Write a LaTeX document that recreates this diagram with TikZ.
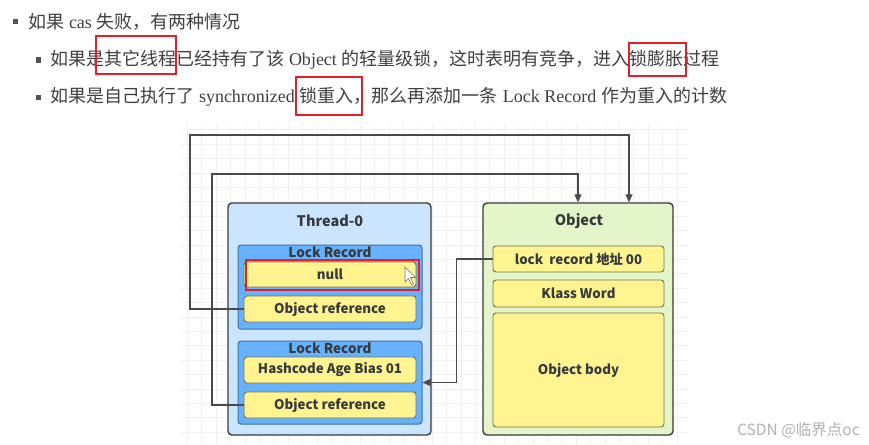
\documentclass[tikz,border=0pt]{standalone}
\usepackage{fontspec}
\setmainfont{Liberation Serif}
\newfontfamily\cjk{Noto Sans CJK SC}
\usetikzlibrary{arrows.meta, positioning}

\definecolor{txtgray}{HTML}{404040}
\definecolor{markred}{HTML}{E3202A}
\definecolor{boxline}{HTML}{36393D}
\definecolor{threadfill}{HTML}{CCE5FF}
\definecolor{recfill}{HTML}{66B2FF}
\definecolor{recline}{HTML}{3F6E9E}
\definecolor{slotfill}{HTML}{FFF48F}
\definecolor{slotline}{HTML}{77734C}
\definecolor{objfill}{HTML}{E4F5C9}
\definecolor{linkgray}{HTML}{4A4A4A}

\begin{document}
\begin{tikzpicture}[x=1pt, y=-1pt,
  word/.style = {anchor=base west, inner sep=0pt, outer sep=0pt, text=txtgray, font=\cjk\fontsize{18}{20}\selectfont},
  bullet/.style = {fill=txtgray!90, minimum size=5pt, inner sep=0pt},
  markbox/.style = {draw=markred, line width=2.6pt},
  holder/.style = {draw=boxline, line width=1.4pt, rounded corners=4pt},
  record/.style = {draw=recline, fill=recfill, line width=1pt, rounded corners=3pt},
  slot/.style = {draw=slotline, fill=slotfill, line width=0.9pt, rounded corners=3pt, text=boxline, font=\cjk\bfseries\fontsize{13.3}{15}\selectfont},
  label/.style = {text=boxline, font=\cjk\bfseries\fontsize{13.5}{15}\selectfont},
  link/.style = {draw=linkgray, line width=1.2pt, -{Triangle[length=8pt, width=7pt]}}
]
\useasboundingbox[fill=white] (0,0) rectangle (869,444);

% grid behind the diagram
\draw[black!6, line width=0.6pt, step=14.4pt] (180,125) grid (688,444);

% text lines
\node[bullet] (b1) at (15,22) {};
\node[word] (l1a) at (28,28.6) {如果};
\node[word] (l1b) at (l1a.base east) {\kern5pt\rmfamily cas\kern5pt};
\node[word] (l1c) at (l1b.base east) {失败，有两种情况};

\node[bullet] (b2) at (38,60) {};
\node[word] (l2a) at (50,65.6) {如果是};
\node[word] (l2b) at (l2a.base east) {其它线程};
\node[word] (l2c) at (l2b.base east) {已经持有了该\kern5pt{\rmfamily Object}\kern5pt的轻量级锁，这时表明有竞争，进入};
\node[word] (l2d) at (l2c.base east) {锁膨胀};
\node[word] (l2e) at (l2d.base east) {过程};

\node[bullet] (b3) at (38,97) {};
\node[word] (l3a) at (50,102.6) {如果是自己执行了\kern5pt{\rmfamily synchronized}\kern5pt};
\node[word] (l3b) at (l3a.base east) {锁重入};
\node[word] (l3c) at (l3b.base east) {，那么再添加一条\kern5pt{\rmfamily Lock Record}\kern5pt作为重入的计数};

\draw[markbox] ([xshift=-8pt, yshift=-8.5pt]l2b.base west) rectangle ([yshift=29.5pt]l2b.base east);
\draw[markbox] ([xshift=-1pt, yshift=-10.5pt]l2d.base west) rectangle ([xshift=2pt, yshift=22.5pt]l2d.base east);
\draw[markbox] ([xshift=-4pt, yshift=-12.5pt]l3b.base west) rectangle ([xshift=8pt, yshift=25.5pt]l3b.base east);

% Thread-0 with its lock records
\node[holder, fill=threadfill, minimum width=203pt, minimum height=232pt] (thread) at (329.5,319) {};
\node[label, font=\cjk\bfseries\fontsize{14.5}{16}\selectfont] (threadT) at (330,221) {Thread-0};
\node[record, minimum width=184pt, minimum height=84pt] (rec1) at (330,287) {};
\node[label] (rec1T) at (330,252) {Lock Record};
\node[slot, minimum width=172pt, minimum height=25pt] (null) at (330,274.5) {null};
\node[slot, minimum width=172pt, minimum height=26pt] (ref1) at (330,309) {Object reference};
\node[record, minimum width=184pt, minimum height=83pt] (rec2) at (330,382.5) {};
\node[label] (rec2T) at (330,348) {Lock Record};
\node[slot, minimum width=172pt, minimum height=26pt] (hash) at (330,370) {Hashcode Age Bias 01};
\node[slot, minimum width=172pt, minimum height=26pt] (ref2) at (330,405) {Object reference};
\draw[markbox] (246,260) rectangle (419,290);
\draw[fill=white, draw=black!55, line width=0.6pt] (405,267) -- (405,282) -- (408.5,278.5) -- (411.5,285) -- (413.5,284) -- (410.5,277.5) -- (415.5,277.5) -- cycle;

% Object
\node[holder, fill=objfill, minimum width=190pt, minimum height=232pt] (obj) at (578,319) {};
\node[label, font=\cjk\bfseries\fontsize{14.5}{16}\selectfont] (objT) at (579,221) {Object};
\node[slot, minimum width=171pt, minimum height=26pt] (addr) at (578.5,259) {lock\ \ record 地址 00};
\node[slot, minimum width=171pt, minimum height=27pt] (klass) at (578.5,293.5) {Klass Word};
\node[slot, minimum width=171pt, minimum height=114pt] (body) at (578.5,370) {Object body};

% connectors
\coordinate (c1) at (190,135);
\coordinate (c2) at (212,174);
\draw[link] (ref1.west) -| (c1) -| ([xshift=51pt]obj.north);
\draw[link] (ref2.west) -| (c2) -| (obj.north);
\draw[link] (addr.west) -- ++(-36,0) |- (rec2.east);

\node[text=black!30, font=\cjk\fontsize{15.5}{17}\selectfont] (mark) at (798.5,430) {CSDN @临界点oc};
\end{tikzpicture}
\end{document}
